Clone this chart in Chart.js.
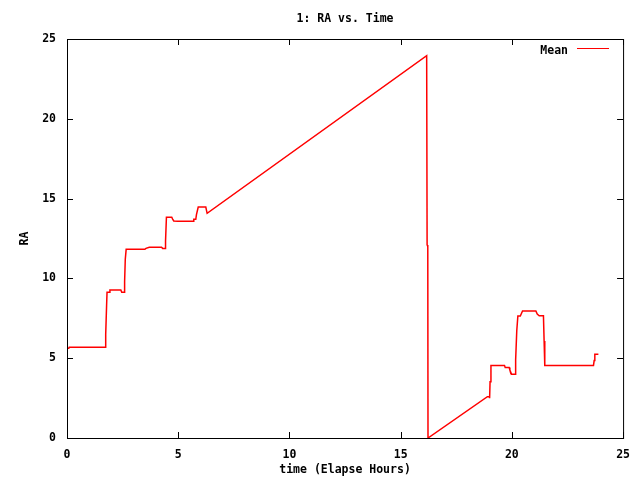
<!DOCTYPE html>
<html>
<head>
<meta charset="utf-8">
<script src="https://cdn.jsdelivr.net/npm/chart.js@4"></script>
<style>
  html, body { margin: 0; padding: 0; background: #fff; }
  #wrap { width: 640px; height: 480px; }
</style>
</head>
<body>
<div id="wrap"><canvas id="raChart" width="640" height="480"></canvas></div>
<script>
// elapsed time (hours) and mean RA
const hours = [0, 0.08, 0.1, 1.72, 1.74, 1.78, 1.8, 1.9, 1.93, 2.42, 2.46, 2.57, 2.59, 2.62, 2.66,
  3.5, 3.55, 3.7, 4.25, 4.3, 4.41, 4.43, 4.47, 4.71, 4.75, 4.8, 4.98, 5.67, 5.7, 5.79, 5.82, 5.9,
  6.24, 6.3, 16.17, 16.19, 16.22, 16.23, 18.9, 18.99, 19.0, 19.02, 19.06, 19.67, 19.7, 19.88,
  19.91, 19.96, 19.99, 20.15, 20.17, 20.22, 20.27, 20.38, 20.42, 20.48, 21.08, 21.14, 21.23,
  21.42, 21.45, 21.48, 23.67, 23.7, 23.73, 23.89];
const raMean = [5.62, 5.62, 5.68, 5.68, 6.5, 8.3, 9.13, 9.13, 9.27, 9.27, 9.13, 9.13, 9.8, 11.2, 11.82,
  11.82, 11.88, 11.95, 11.95, 11.88, 11.88, 12.34, 13.83, 13.83, 13.72, 13.6, 13.58, 13.58, 13.7, 13.7, 14.0, 14.47,
  14.47, 14.08, 23.95, 12.1, 12.0, 0, 2.59, 2.59, 2.49, 3.53, 4.55, 4.55, 4.41, 4.41,
  4.26, 4.09, 3.99, 3.99, 4.89, 6.7, 7.64, 7.64, 7.77, 7.96, 7.96, 7.77, 7.66,
  7.66, 6.08, 4.55, 4.55, 4.85, 5.24, 5.24];
const xTicks = [0, 5, 10, 15, 20, 25];
const yTicks = [0, 5, 10, 15, 20, 25];
const seriesName = 'Mean';
const chartTitle = '1: RA vs. Time';

const points = hours.map((h, i) => ({ x: h, y: raMean[i] }));

Chart.defaults.font.family = '"DejaVu Sans Mono", monospace';
Chart.defaults.font.size = 11.5;
Chart.defaults.font.weight = 'bold';
Chart.defaults.color = '#000';

// gnuplot style frame, inward ticks on all four sides, and the key
const framePlugin = {
  id: 'frame',
  afterDraw(chart) {
    const { ctx, chartArea: a, scales } = chart;
    ctx.save();
    ctx.strokeStyle = '#000';
    ctx.lineWidth = 1;
    ctx.strokeRect(a.left + 0.5, a.top + 0.5, a.right - a.left, a.bottom - a.top);
    ctx.beginPath();
    xTicks.forEach(v => {
      const x = Math.round(scales.x.getPixelForValue(v)) + 0.5;
      ctx.moveTo(x, a.bottom); ctx.lineTo(x, a.bottom - 6);
      ctx.moveTo(x, a.top); ctx.lineTo(x, a.top + 6);
    });
    yTicks.forEach(v => {
      const y = Math.round(scales.y.getPixelForValue(v)) + 0.5;
      ctx.moveTo(a.left, y); ctx.lineTo(a.left + 6, y);
      ctx.moveTo(a.right, y); ctx.lineTo(a.right - 6, y);
    });
    ctx.stroke();

    // key
    ctx.font = 'bold 11.5px "DejaVu Sans Mono", monospace';
    ctx.fillStyle = '#000';
    ctx.textAlign = 'right';
    ctx.textBaseline = 'alphabetic';
    ctx.fillText(seriesName, 568, 53.5);
    ctx.strokeStyle = 'rgb(255,0,0)';
    ctx.beginPath();
    ctx.moveTo(577, 48.5); ctx.lineTo(609, 48.5);
    ctx.stroke();
    ctx.restore();
  }
};

new Chart(document.getElementById('raChart').getContext('2d'), {
  type: 'scatter',
  data: {
    datasets: [{
      label: seriesName,
      data: points,
      showLine: true,
      borderColor: 'rgb(255,0,0)',
      borderWidth: 1.5,
      pointRadius: 0,
      tension: 0,
      fill: false
    }]
  },
  options: {
    responsive: false,
    animation: false,
    layout: { padding: { left: 0, right: 16, top: 0, bottom: 0 } },
    plugins: {
      legend: { display: false },
      tooltip: { enabled: false },
      title: {
        display: true,
        text: chartTitle,
        fullSize: false,
        padding: { top: 12, bottom: 13.2 },
        font: { size: 11.5, weight: 'bold' },
        color: '#000'
      }
    },
    scales: {
      x: {
        type: 'linear',
        min: 0,
        max: 25,
        afterFit: s => { s.height = 42; },
        afterBuildTicks: s => { s.ticks = xTicks.map(v => ({ value: v })); },
        grid: { display: false, drawTicks: false },
        border: { display: false },
        ticks: { padding: 10, maxRotation: 0, autoSkip: false },
        title: { display: true, text: 'time (Elapse Hours)', padding: { top: 0, bottom: 3 } }
      },
      y: {
        type: 'linear',
        min: 0,
        max: 25,
        afterFit: s => { s.width = 67; },
        afterBuildTicks: s => { s.ticks = yTicks.map(v => ({ value: v })); },
        grid: { display: false, drawTicks: false },
        border: { display: false },
        ticks: { padding: 11, autoSkip: false },
        title: { display: true, text: 'RA', padding: { top: 18, bottom: 0 } }
      }
    }
  },
  plugins: [framePlugin]
});
</script>
</body>
</html>
